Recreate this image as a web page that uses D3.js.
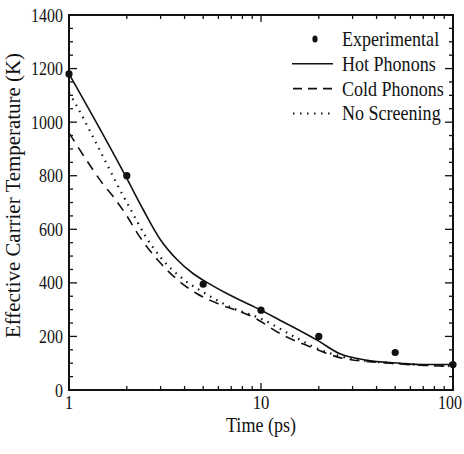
<!DOCTYPE html>
<html>
<head>
<meta charset="utf-8">
<script src="https://cdn.jsdelivr.net/npm/d3@7.9.0/dist/d3.min.js"></script>
<style>
  body { margin: 0; background: #fff; }
  svg text { font-family: "Liberation Serif", "Times New Roman", Times, serif; }
</style>
</head>
<body>
<svg id="chart" width="464" height="454"></svg>
<script>
// Data: [time (ps), temperature (K)]
const experimental = [[1, 1180], [2, 800], [5, 395], [10, 298], [20, 200], [50, 140], [100, 95]];
const hotPhonons = [[1, 1180], [1.5, 955], [2, 790], [2.44, 672], [3, 560], [3.64, 488], [4.44, 434], [5, 410],
  [6.6, 361], [8.8, 317], [10, 298], [13, 255], [19.5, 187], [26, 134], [35, 112], [53, 100], [70, 95], [100, 95]];
const coldPhonons = [[1, 960], [1.25, 852], [1.5, 770], [1.7, 722], [2, 650], [2.3, 579], [2.9, 485],
  [3.6, 417], [4.6, 361], [5.9, 324], [9, 274], [13, 205], [19.5, 152], [26, 120], [43, 102], [70, 92], [100, 88]];
const noScreening = [[1, 1110], [1.11, 1054], [1.3, 960], [1.52, 865], [1.77, 771], [2.08, 678], [2.5, 575],
  [3, 495], [4, 410], [5, 365], [7, 308], [10, 266], [15, 198], [20, 152], [30, 116], [50, 100], [100, 89]];

const yTicks = [0, 200, 400, 600, 800, 1000, 1200, 1400];
const xTicks = [1, 10, 100];
const legendItems = ["Experimental", "Hot Phonons", "Cold Phonons", "No Screening"];

const margin = {top: 15, right: 11, bottom: 64, left: 69};
const width = 464 - margin.left - margin.right;
const height = 454 - margin.top - margin.bottom;

const svg = d3.select('#chart');
const g = svg.append('g').attr('transform', `translate(${margin.left},${margin.top})`);

const x = d3.scaleLog().domain([1, 100]).range([0, width]);
const y = d3.scaleLinear().domain([0, 1400]).range([height, 0]);

// minor ticks
const xMinor = [2, 3, 4, 5, 6, 7, 8, 9, 20, 30, 40, 50, 60, 70, 80, 90];
const yMinor = d3.range(0, 1401, 50).filter(v => v % 200 !== 0);

// narrow, tall serif text like the scanned figure
function label(parent, px, py, txt, size, sx, anchor, rot) {
  return parent.append('text')
    .attr('transform', `translate(${px},${py})${rot ? ' rotate(' + rot + ')' : ''} scale(${sx},1)`)
    .attr('font-size', size).attr('fill', '#111')
    .attr('text-anchor', anchor || 'start')
    .text(txt);
}

// frame
g.append('rect')
  .attr('width', width).attr('height', height)
  .attr('fill', 'none').attr('stroke', '#111').attr('stroke-width', 2);

function tickLines(sel, data, fn) {
  sel.selectAll(null).data(data).enter().append('line')
    .each(function(d) { const a = fn(d); d3.select(this).attr('x1', a[0]).attr('y1', a[1]).attr('x2', a[2]).attr('y2', a[3]); })
    .attr('stroke', '#111').attr('stroke-width', 1.3);
}
const ticks = g.append('g');
tickLines(ticks, xMinor, d => [x(d), height, x(d), height - 4]);
tickLines(ticks, xMinor, d => [x(d), 0, x(d), 4]);
tickLines(ticks, [10], d => [x(d), height, x(d), height - 7]);
tickLines(ticks, [10], d => [x(d), 0, x(d), 7]);
tickLines(ticks, yTicks, d => [0, y(d), 8, y(d)]);
tickLines(ticks, yTicks, d => [width, y(d), width - 8, y(d)]);
tickLines(ticks, yMinor, d => [0, y(d), 4, y(d)]);
tickLines(ticks, yMinor, d => [width, y(d), width - 4, y(d)]);

// tick labels
yTicks.forEach(v => label(g, -6, y(v) + 6.5, v, 19, 0.84, 'end'));
xTicks.forEach((v, i) => {
  if (i === xTicks.length - 1) label(g, x(v) + 9, height + 19, v, 19, 0.84, 'end');
  else label(g, x(v), height + 19, v, 19, 0.88, 'middle');
});

// axis titles
label(g, x(10), height + 42, 'Time (ps)', 21, 0.86, 'middle');
g.append('text')
  .attr('transform', `translate(${-49},${height / 2 - 7}) rotate(-90)`)
  .attr('font-size', 20).attr('fill', '#111')
  .attr('text-anchor', 'middle')
  .attr('textLength', 285).attr('lengthAdjust', 'spacingAndGlyphs')
  .text('Effective Carrier Temperature (K)');

// lines
const line = d3.line().x(d => x(d[0])).y(d => y(d[1])).curve(d3.curveMonotoneX);
g.append('path').datum(noScreening).attr('d', line)
  .attr('fill', 'none').attr('stroke', '#111').attr('stroke-width', 2.2)
  .attr('stroke-dasharray', '1.5,5.5');
g.append('path').datum(coldPhonons).attr('d', line)
  .attr('fill', 'none').attr('stroke', '#111').attr('stroke-width', 1.6)
  .attr('stroke-dasharray', '10,7');
g.append('path').datum(hotPhonons).attr('d', line)
  .attr('fill', 'none').attr('stroke', '#111').attr('stroke-width', 1.6);

// experimental points
g.append('g').selectAll('circle').data(experimental).enter().append('circle')
  .attr('cx', d => x(d[0])).attr('cy', d => y(d[1])).attr('r', 3.6)
  .attr('fill', '#111');

// legend
const leg = g.append('g').attr('transform', `translate(${292 - margin.left},${39 - margin.top})`);
legendItems.forEach((name, i) => {
  const row = leg.append('g').attr('transform', `translate(0,${i * 24.8})`);
  if (i === 0) {
    row.append('ellipse').attr('cx', 23).attr('cy', 0).attr('rx', 2.6).attr('ry', 3.6).attr('fill', '#111');
  } else {
    const ln = row.append('line').attr('x1', 0).attr('x2', 41).attr('y1', 0).attr('y2', 0)
      .attr('stroke', '#111');
    if (i === 1) ln.attr('stroke-width', 1.6);
    if (i === 2) ln.attr('x1', 1).attr('stroke-width', 1.6).attr('stroke-dasharray', '9,6');
    if (i === 3) ln.attr('x1', 1).attr('stroke-width', 2).attr('stroke-dasharray', '1.5,5.5');
  }
  label(row, 50, 7, name, 22, 0.82, 'start');
});
</script>
</body>
</html>
